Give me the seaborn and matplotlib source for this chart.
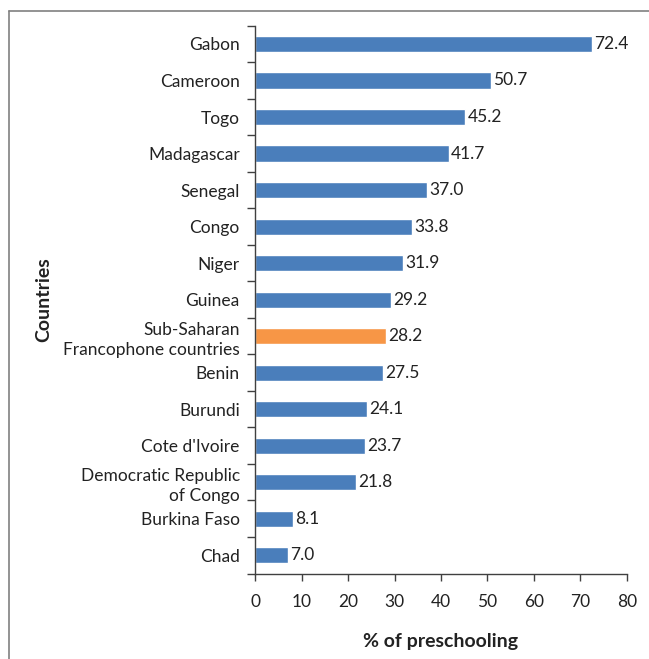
import matplotlib
matplotlib.use("Agg")
import matplotlib.pyplot as plt
import seaborn as sns
import pandas as pd
import numpy as np
from matplotlib.lines import Line2D

countries = ["Gabon", "Cameroon", "Togo", "Madagascar", "Senegal", "Congo", "Niger",
             "Guinea", "Sub-Saharan\nFrancophone countries", "Benin", "Burundi",
             "Cote d'Ivoire", "Democratic Republic\nof Congo", "Burkina Faso", "Chad"]
values = [72.4, 50.7, 45.2, 41.7, 37.0, 33.8, 31.9, 29.2, 28.2, 27.5, 24.1, 23.7, 21.8, 8.1, 7.0]
highlight = "Sub-Saharan\nFrancophone countries"
x_ticks = [0, 10, 20, 30, 40, 50, 60, 70, 80]

BLUE = "#4A7EBB"
ORANGE = "#F79646"
FS = 12.5

sns.set_theme(style="white")
plt.rcParams['font.family'] = ['Lato', 'DejaVu Sans']

df = pd.DataFrame({"country": countries, "value": values})
palette = {c: (ORANGE if c == highlight else BLUE) for c in countries}

fig = plt.figure(figsize=(6.49, 6.59), dpi=100)
ax = fig.add_axes([0.393, 0.1297, 0.573, 0.8313])

sns.barplot(data=df, x="value", y="country", hue="country", palette=palette,
            legend=False, width=0.44, ax=ax, saturation=1, orient="h")

ax.set_xlim(0, 80)
ax.set_ylim(len(countries) - 0.5, -0.5)
ax.set_xticks(x_ticks)
ax.set_xticklabels([str(t) for t in x_ticks], fontsize=FS, color="#222222")
ax.tick_params(axis="x", direction="out", length=5, width=1, color="#404040", pad=10, bottom=True)
ax.tick_params(axis="y", which="major", length=0, pad=11, labelsize=FS, labelcolor="#222222")
for lbl in ax.get_yticklabels():
    lbl.set_linespacing(1.32)
ax.set_yticks(np.arange(len(countries) + 1) - 0.5, minor=True)
ax.tick_params(axis="y", which="minor", direction="out", length=6, width=1, color="#404040", left=True)

for s in ["top", "right"]:
    ax.spines[s].set_visible(False)
for s in ["left", "bottom"]:
    ax.spines[s].set_color("#404040")
    ax.spines[s].set_linewidth(1)

for i, v in enumerate(values):
    ax.text(v + 0.5, i, f"{v:.1f}", va="center", ha="left", fontsize=FS, color="#222222")

ax.set_xlabel("% of preschooling", fontsize=14, fontweight="bold", labelpad=16, color="#222222")
ax.set_ylabel("Countries", fontsize=14, fontweight="bold", color="#222222")
ax.yaxis.set_label_coords(-0.545, 0.5)

# outer frame (cut at right and bottom in the reference)
fig.add_artist(Line2D([9 / 649, 1.0], [1 - 11 / 659, 1 - 11 / 659], color="#808080", lw=1.2,
                      transform=fig.transFigure))
fig.add_artist(Line2D([9 / 649, 9 / 649], [0.0, 1 - 11 / 659], color="#808080", lw=1.2,
                      transform=fig.transFigure))

fig.savefig("out.png", dpi=100)
